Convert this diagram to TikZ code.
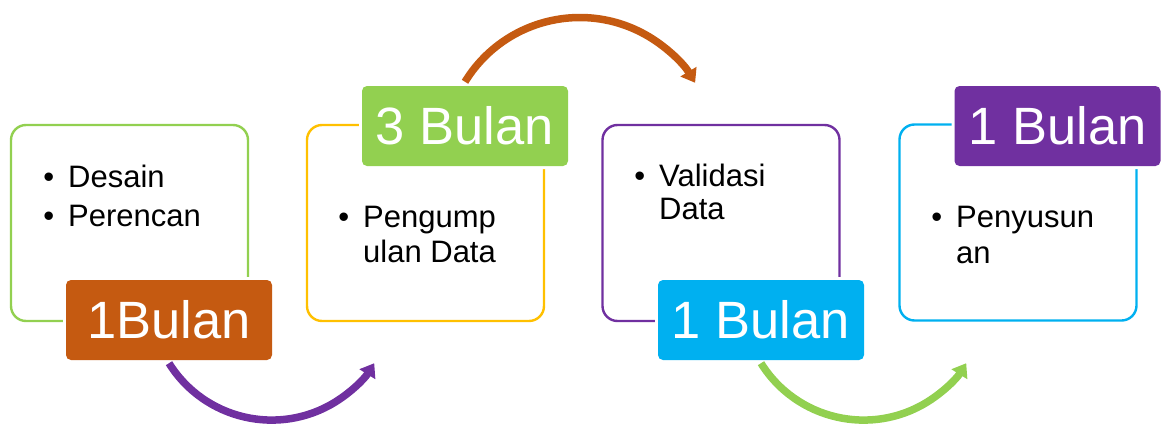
\documentclass[tikz,border=0pt]{standalone}
\usepackage{fontspec}
\setmainfont{Liberation Sans}
\usetikzlibrary{arrows.meta}
\definecolor{cOrange}{HTML}{C55A11}
\definecolor{cGreen}{HTML}{92D050}
\definecolor{cCyan}{HTML}{00B0F0}
\definecolor{cPurple}{HTML}{7030A0}
\definecolor{cYellow}{HTML}{FFC000}
\tikzset{
  outline/.style={draw=#1, line width=2.4pt, rounded corners=15pt, minimum width=237pt, minimum height=196pt, inner sep=0pt},
  tag/.style={fill=#1, rounded corners=5pt, minimum width=206pt, minimum height=80pt, inner sep=0pt,
    preaction={draw=white, line width=6pt}, text=white, font=\fontsize{52.5}{52.5}\selectfont},
  item/.style={anchor=base west, inner sep=0pt, font=\fontsize{31}{35}\selectfont},
  flow/.style={draw=#1, line width=7.5pt, -{Triangle[length=13pt,width=18pt]}},
}
\newcommand{\bul}{\llap{\textbullet\hspace{14pt}}}
\begin{document}
\begin{tikzpicture}[x=1pt,y=1pt]
\useasboundingbox (0,0) rectangle (1165,-426);
% outlines
\node[outline=cGreen]  (b1) at (129.5,-223) {};
\node[outline=cYellow] (b2) at (425.5,-223) {};
\node[outline=cPurple] (b3) at (721,-223) {};
\node[outline=cCyan]   (b4) at (1018,-222.5) {};
% texts
\node[item] (t1a) at (68,-187) {\bul Desain};
\node[item] (t1b) at (68,-226) {\bul Perencan};
\node[item] (t2a) at (363,-227) {\bul Pengump};
\node[item] (t2b) at (363,-262) {ulan Data};
\node[item] (t3a) at (659,-186) {\bul Validasi};
\node[item] (t3b) at (659,-219.5) {Data};
\node[item] (t4a) at (956,-227) {\bul Penyusun};
\node[item] (t4b) at (956,-263) {an};
% labels
\node[tag=cOrange] (l1) at (169,-320) {1Bulan};
\node[tag=cGreen]  (l2) at (465,-126) {3 Bulan};
\node[tag=cCyan]   (l3) at (761,-320) {1 Bulan};
\node[tag=cPurple] (l4) at (1057.5,-126) {1 Bulan};
% arrows
\draw[flow=cPurple] ([yshift=-3pt]l1.south) arc[start angle=212, end angle=328, radius=121pt];
\draw[flow=cOrange] ([yshift=4pt]l2.north) arc[start angle=148.5, end angle=31, radius=134.6pt];
\draw[flow=cGreen]  ([yshift=-3pt]l3.south) arc[start angle=212, end angle=328, radius=121pt];
\end{tikzpicture}
\end{document}
